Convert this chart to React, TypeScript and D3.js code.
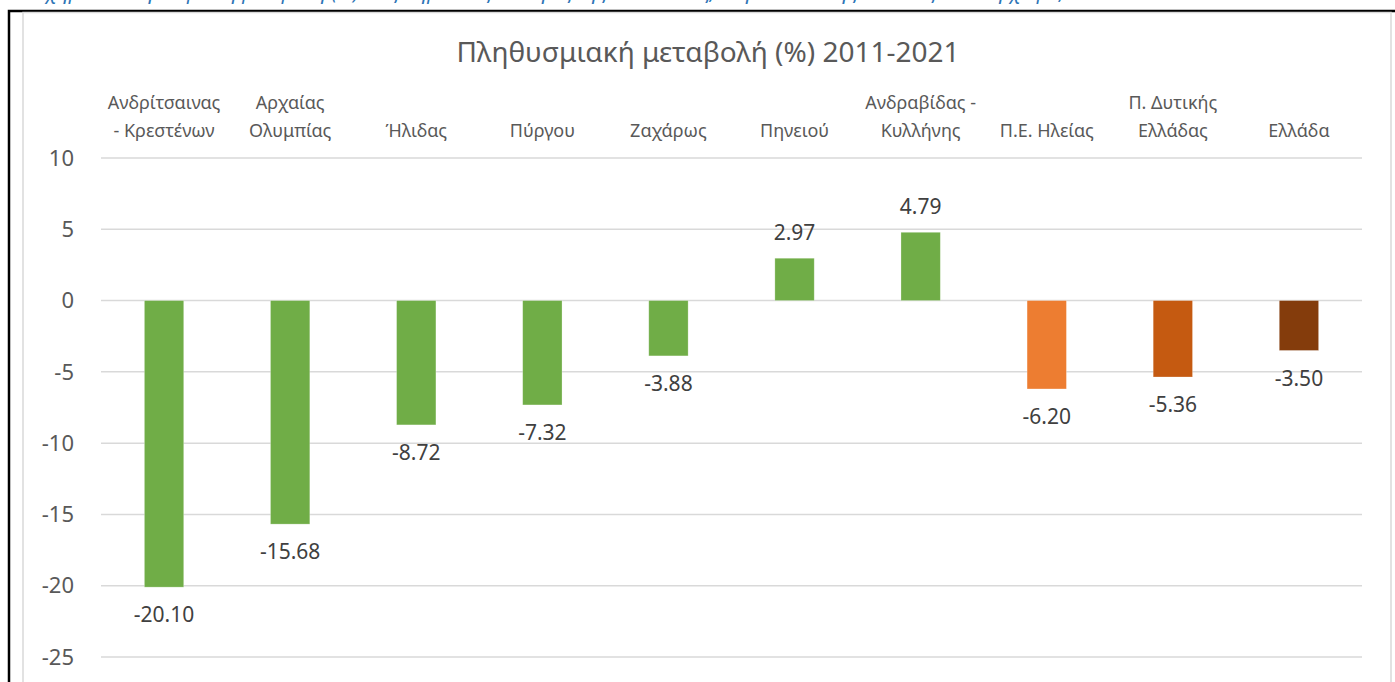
import { useMemo } from "react";
import * as d3 from "d3";

const categories: string[][] = [
  ["Ανδρίτσαινας", "- Κρεστένων"],
  ["Αρχαίας", "Ολυμπίας"],
  ["Ήλιδας"],
  ["Πύργου"],
  ["Ζαχάρως"],
  ["Πηνειού"],
  ["Ανδραβίδας -", "Κυλλήνης"],
  ["Π.Ε. Ηλείας"],
  ["Π. Δυτικής", "Ελλάδας"],
  ["Ελλάδα"],
];
const values = [-20.1, -15.68, -8.72, -7.32, -3.88, 2.97, 4.79, -6.2, -5.36, -3.5];
const barColors = [
  "#70AD47", "#70AD47", "#70AD47", "#70AD47", "#70AD47", "#70AD47", "#70AD47",
  "#ED7D31", "#C55A11", "#843C0C",
];
const yTicks = [10, 5, 0, -5, -10, -15, -20, -25];

const title = "Πληθυσμιακή μεταβολή (%) 2011-2021";
const caption =
  "Σχήμα 2: Πληθυσμιακή μεταβολή (%) στις Δημοτικές Ενότητες της Π.Ε. Ηλείας, στην Π. Δυτικής Ελλάδας και στη χώρα, 2011-2021";

const W = 1395;
const H = 682;
const font = "'Noto Sans', sans-serif";

export default function App() {
  const keys = categories.map((c) => c.join(" "));

  const { x, y } = useMemo(() => {
    const x = d3.scaleBand<string>().domain(keys).range([101, 1362]).padding(0);
    const y = d3.scaleLinear().domain([-25, 10]).range([657, 158]);
    return { x, y };
  }, []);

  const barW = x.bandwidth() * 0.312;

  return (
    <svg
      width={W}
      height={H}
      style={{ position: "absolute", left: 0, top: 0, background: "#fff" }}
      fontFamily={font}
    >
      {/* caption of the figure above, mostly cut off by the page edge */}
      <text x={35} y={-1} fontSize={20} fontStyle="italic" fill="#2E75B6">
        {caption}
      </text>

      {/* document frame */}
      <rect x={9} y={11} width={W + 20} height={H + 20} fill="none" stroke="#000" strokeWidth={2.5} />
      {/* chart area border */}
      <rect x={23} y={12.5} width={1368} height={H + 20} fill="none" stroke="#d9d9d9" strokeWidth={1.5} />

      <text x={708} y={62} textAnchor="middle" fontSize={28} fill="#595959">
        {title}
      </text>

      {/* gridlines + y ticks */}
      {yTicks.map((t) => (
        <g key={t}>
          <line x1={101} x2={1362} y1={y(t)} y2={y(t)} stroke="#d9d9d9" strokeWidth={1.5} />
          <text x={74} y={y(t)} dy="0.35em" textAnchor="end" fontSize={22} fill="#595959">
            {t}
          </text>
        </g>
      ))}

      {/* category labels */}
      {categories.map((lines, i) => {
        const cx = x(keys[i])! + x.bandwidth() / 2;
        const base = lines.length === 2 ? 109 : 137;
        return (
          <text key={i} textAnchor="middle" fontSize={18} fill="#595959">
            {lines.map((l, j) => (
              <tspan key={j} x={cx} y={base + j * 28}>
                {l}
              </tspan>
            ))}
          </text>
        );
      })}

      {/* bars */}
      {values.map((v, i) => {
        const cx = x(keys[i])! + x.bandwidth() / 2;
        const y0 = y(0);
        const y1 = y(v);
        return (
          <rect
            key={i}
            x={cx - barW / 2}
            y={Math.min(y0, y1)}
            width={barW}
            height={Math.abs(y1 - y0)}
            fill={barColors[i]}
            stroke="#fff"
            strokeOpacity={0.35}
            strokeWidth={0.75}
          />
        );
      })}

      {/* data labels */}
      {values.map((v, i) => {
        const cx = x(keys[i])! + x.bandwidth() / 2;
        const ly = v < 0 ? y(v) + 28 : y(v) - 26;
        return (
          <text key={i} x={cx} y={ly} dy="0.35em" textAnchor="middle" fontSize={21} fill="#404040">
            {v.toFixed(2)}
          </text>
        );
      })}
    </svg>
  );
}
